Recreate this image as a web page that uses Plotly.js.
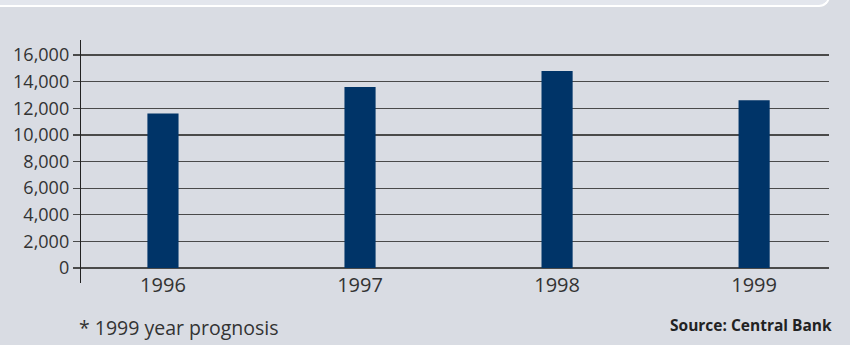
<!DOCTYPE html>
<html>
<head>
<meta charset="utf-8">
<script src="https://cdn.plot.ly/plotly-3.0.1.min.js"></script>
<style>
  html, body { margin: 0; padding: 0; background: #d9dce3; }
  #wrap { position: relative; width: 850px; height: 345px; }
  #chart { width: 850px; height: 345px; }
  #panel { position: absolute; left: -4px; top: -4px; width: 832px; height: 9px;
           background: #e3e6ed; border-right: 2px solid #ffffff; border-bottom: 2px solid #ffffff;
           border-bottom-right-radius: 14px; pointer-events: none; }
</style>
</head>
<body>
<div id="wrap">
  <div id="chart"></div>
  <div id="panel"></div>
</div>
<script>
const years = ['1996', '1997', '1998', '1999'];
const positions = [0, 1, 2, 3];
const values = [11600, 13600, 14800, 12600];
const yTicks = [0, 2000, 4000, 6000, 8000, 10000, 12000, 14000, 16000];
const yTickLabels = ['0', '2,000', '4,000', '6,000', '8,000', '10,000', '12,000', '14,000', '16,000'];

const trace = {
  type: 'bar',
  x: positions,
  y: values,
  width: 0.158,
  marker: { color: '#003468', line: { width: 0 } },
  hoverinfo: 'none'
};

const layout = {
  width: 850,
  height: 345,
  margin: { l: 81, r: 21, t: 40, b: 62 },
  paper_bgcolor: '#d9dce3',
  plot_bgcolor: '#d9dce3',
  font: { family: '"Open Sans", "Noto Sans", sans-serif', color: '#333333' },
  showlegend: false,
  xaxis: {
    range: [-0.416, 3.38],
    tickvals: positions,
    ticktext: years,
    showgrid: false,
    zeroline: false,
    showline: false,
    ticks: '',
    anchor: 'free',
    position: 0.0617,
    ticklabelstandoff: 3,
    tickfont: { size: 20, color: '#333333' },
    fixedrange: true
  },
  yaxis: {
    range: [-1127, 17130],
    tickvals: yTicks,
    ticktext: yTickLabels,
    showgrid: true,
    gridcolor: '#4a4a4a',
    gridwidth: 1.2,
    zeroline: false,
    showline: true,
    linecolor: '#222222',
    linewidth: 1.2,
    ticks: 'outside',
    ticklen: 7,
    tickcolor: '#4a4a4a',
    tickwidth: 1.2,
    ticklabelstandoff: 0,
    tickfont: { size: 18, color: '#333333' },
    fixedrange: true
  },
  annotations: [
    {
      xref: 'paper', yref: 'paper', x: -0.006, y: -0.182,
      xanchor: 'left', yanchor: 'middle', showarrow: false,
      text: '* 1999 year prognosis',
      font: { size: 19.5, color: '#333333' }
    },
    {
      xref: 'paper', yref: 'paper', x: 1.007, y: -0.172,
      xanchor: 'right', yanchor: 'middle', showarrow: false,
      text: '<b>Source: Central Bank</b>',
      font: { size: 15.5, color: '#222222' }
    }
  ]
};

Plotly.newPlot('chart', [trace], layout, { displayModeBar: false, staticPlot: true });
</script>
</body>
</html>
